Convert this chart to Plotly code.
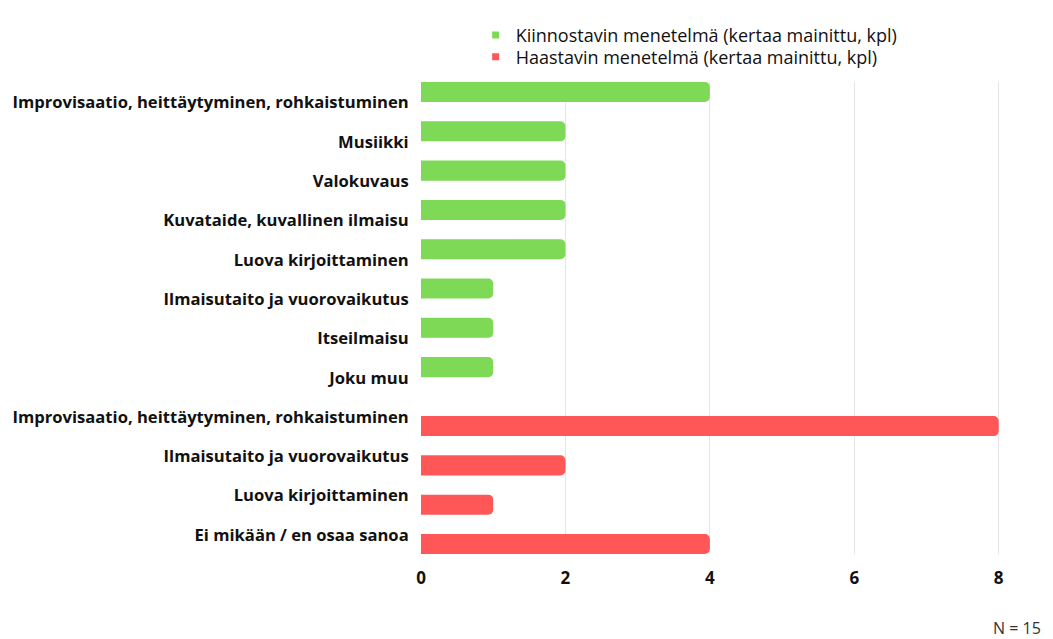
import plotly.graph_objects as go

green_labels = [
    "Improvisaatio, heittäytyminen, rohkaistuminen",
    "Musiikki",
    "Valokuvaus",
    "Kuvataide, kuvallinen ilmaisu",
    "Luova kirjoittaminen",
    "Ilmaisutaito ja vuorovaikutus",
    "Itseilmaisu",
    "Joku muu",
]
green_values = [4, 2, 2, 2, 2, 1, 1, 1]

red_labels = [
    "Improvisaatio, heittäytyminen, rohkaistuminen",
    "Ilmaisutaito ja vuorovaikutus",
    "Luova kirjoittaminen",
    "Ei mikään / en osaa sanoa",
]
red_values = [8, 2, 1, 4]

green_name = "Kiinnostavin menetelmä (kertaa mainittu, kpl)"
red_name = "Haastavin menetelmä (kertaa mainittu, kpl)"
x_ticks = [0, 2, 4, 6, 8]
note = "N = 15"

GREEN = "#7ED957"
RED = "#FF5757"
FONT = "Open Sans"
TXT = "#111111"

n_g, n_r = len(green_values), len(red_values)
green_pos = list(range(n_g))
red_pos = [n_g + 0.5 + j for j in range(n_r)]
# category labels are evenly spaced, slightly offset from the bars (as in the original)
label_pos = [k + 0.27 for k in range(n_g + n_r)]

fig = go.Figure()
fig.add_trace(go.Bar(y=green_pos, x=green_values, orientation="h",
                     marker=dict(color=GREEN, line=dict(width=0)), width=0.51,
                     showlegend=False, hoverinfo="x"))
fig.add_trace(go.Bar(y=red_pos, x=red_values, orientation="h",
                     marker=dict(color=RED, line=dict(width=0)), width=0.51,
                     showlegend=False, hoverinfo="x"))
# legend entries (two separate legends so the line spacing can be matched)
fig.add_trace(go.Scatter(x=[None], y=[None], mode="markers", name=green_name,
                         legend="legend",
                         marker=dict(symbol="square", size=7, color=GREEN)))
fig.add_trace(go.Scatter(x=[None], y=[None], mode="markers", name=red_name,
                         legend="legend2",
                         marker=dict(symbol="square", size=7, color=RED)))

leg_font = dict(size=18, family=FONT, color=TXT, weight=500)
fig.update_layout(
    width=1045, height=631,
    margin=dict(l=413, r=11, t=74, b=85, autoexpand=False),
    paper_bgcolor="white", plot_bgcolor="white",
    barcornerradius=5,
    font=dict(family=FONT, color=TXT),
    legend=dict(x=0.088, y=1.099, xanchor="left", yanchor="middle",
                font=leg_font, itemwidth=30, bgcolor="rgba(0,0,0,0)"),
    legend2=dict(x=0.088, y=1.053, xanchor="left", yanchor="middle",
                 font=leg_font, itemwidth=30, bgcolor="rgba(0,0,0,0)"),
    xaxis=dict(range=[0, 8.6], tickvals=x_ticks, showgrid=True,
               gridcolor="#E6E6E6", gridwidth=1, zeroline=False,
               showline=False, ticks="outside", ticklen=9, tickcolor="white",
               automargin=False,
               tickfont=dict(size=17, family=FONT, color=TXT, weight="bold")),
    yaxis=dict(range=[n_g + n_r - 0.5 + 0.255, -0.255],
               tickvals=label_pos, ticktext=green_labels + red_labels,
               showgrid=False, zeroline=False, showline=False,
               ticks="outside", ticklen=8, tickcolor="white", automargin=False,
               tickfont=dict(size=16.6, family=FONT, color=TXT, weight="bold")),
    annotations=[dict(text=note, xref="paper", yref="paper", x=1.0016, y=-0.157,
                      xanchor="right", yanchor="middle", showarrow=False,
                      font=dict(size=16, family=FONT, color="#333333"))],
)
fig.write_html("out.html")
